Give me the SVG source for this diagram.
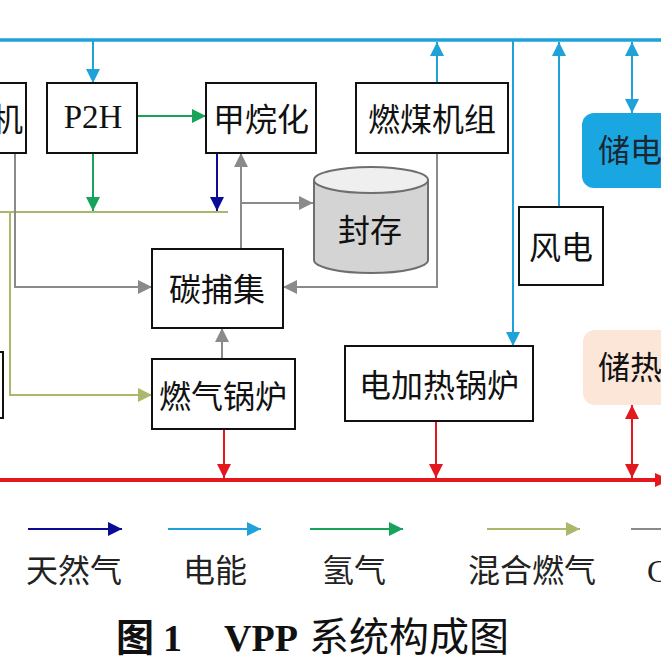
<svg xmlns="http://www.w3.org/2000/svg" width="661" height="662" viewBox="0 0 661 662">
<style>
.box{fill:#fff;stroke:#111;stroke-width:2}
.t{font-family:"Liberation Serif","Noto Sans CJK SC",serif;font-size:32px;fill:#111;text-anchor:middle}
.lt{font-family:"Liberation Serif","Noto Sans CJK SC",serif;font-size:32px;fill:#222;text-anchor:middle}
.ttl{font-family:"Liberation Serif","Noto Sans CJK SC",serif;fill:#111}
.c{fill:none;stroke-width:2}
.e{stroke:#1fa2d8}.h{stroke:#17a35a}.n{stroke:#0b0b96}.m{stroke:#a9b86a}.g{stroke:#8a8a8a}.r{stroke:#e3171e}
</style>
<defs>
<marker id="ae" markerUnits="userSpaceOnUse" markerWidth="14" markerHeight="14" refX="14" refY="7" orient="auto-start-reverse"><path d="M0,0L14,7L0,14z" fill="#1fa2d8"/></marker>
<marker id="ah" markerUnits="userSpaceOnUse" markerWidth="14" markerHeight="14" refX="14" refY="7" orient="auto"><path d="M0,0L14,7L0,14z" fill="#17a35a"/></marker>
<marker id="an" markerUnits="userSpaceOnUse" markerWidth="14" markerHeight="14" refX="14" refY="7" orient="auto"><path d="M0,0L14,7L0,14z" fill="#0b0b96"/></marker>
<marker id="am" markerUnits="userSpaceOnUse" markerWidth="14" markerHeight="14" refX="14" refY="7" orient="auto"><path d="M0,0L14,7L0,14z" fill="#a9b86a"/></marker>
<marker id="ag" markerUnits="userSpaceOnUse" markerWidth="14" markerHeight="14" refX="14" refY="7" orient="auto"><path d="M0,0L14,7L0,14z" fill="#8a8a8a"/></marker>
<marker id="ar" markerUnits="userSpaceOnUse" markerWidth="14" markerHeight="14" refX="14" refY="7" orient="auto-start-reverse"><path d="M0,0L14,7L0,14z" fill="#e3171e"/></marker>
</defs>
<rect width="661" height="662" fill="#fff"/>

<g id="connectors">
<line x1="0" y1="40" x2="661" y2="40" stroke="#1fa2d8" stroke-width="3.5"/>
<line x1="0" y1="480" x2="661" y2="480" stroke="#e3171e" stroke-width="4"/>
<polygon points="655,473 670,480 655,487" fill="#e3171e"/>
<path class="c e" d="M93,41V83" marker-end="url(#ae)"/>
<path class="c h" d="M137,116H206" marker-end="url(#ah)"/>
<path class="c h" d="M93,153V211" marker-end="url(#ah)"/>
<path class="c n" d="M217,153V211" marker-end="url(#an)"/>
<path class="c m" d="M0,212H228"/>
<path class="c m" d="M10,212V395H152" marker-end="url(#am)"/>
<path class="c g" d="M15,153V287H152" marker-end="url(#ag)"/>
<path class="c g" d="M241,249V153" marker-end="url(#ag)"/>
<path class="c g" d="M241,203H313" marker-end="url(#ag)"/>
<path class="c g" d="M437,153V287H283" marker-end="url(#ag)"/>
<path class="c g" d="M222,359V328" marker-end="url(#ag)"/>
<path class="c e" d="M437,83V42" marker-end="url(#ae)"/>
<path class="c e" d="M513,40V346" marker-end="url(#ae)"/>
<path class="c e" d="M559,207V42" marker-end="url(#ae)"/>
<path class="c e" d="M632,42V113" marker-start="url(#ae)" marker-end="url(#ae)"/>
<path class="c r" d="M224,429V478" marker-end="url(#ar)"/>
<path class="c r" d="M436,421V478" marker-end="url(#ar)"/>
<path class="c r" d="M632,405V478" marker-start="url(#ar)" marker-end="url(#ar)"/>
</g>

<g id="n-ji"><rect class="box" x="-5" y="83" width="31" height="70"/><text class="t" x="23" y="131" style="text-anchor:end">机</text></g>
<g id="n-p2h"><rect class="box" x="47" y="83" width="90" height="70"/><text class="t" x="93" y="128" style="font-size:33px">P2H</text></g>
<g id="n-methanation"><rect class="box" x="206" y="83" width="110" height="70"/><text class="t" x="261" y="131">甲烷化</text></g>
<g id="n-coal"><rect class="box" x="356" y="83" width="152" height="70"/><text class="t" x="432" y="131">燃煤机组</text></g>
<g id="n-storage">
<path d="M314,180V260A57,13 0 0 0 428,260V180" fill="#d4d4d4" stroke="#6e6e6e" stroke-width="2"/>
<ellipse cx="371" cy="180" rx="57" ry="13" fill="#efefef" stroke="#6e6e6e" stroke-width="2"/>
<text class="t" x="370" y="242">封存</text></g>
<g id="n-capture"><rect class="box" x="152" y="249" width="131" height="79"/><text class="t" x="217" y="301">碳捕集</text></g>
<g id="n-wind"><rect class="box" x="519" y="207" width="84" height="78"/><text class="t" x="561" y="259">风电</text></g>
<g id="n-elec-store"><rect x="582" y="113" width="100" height="75" rx="12" fill="#1aa7e1"/><text class="t" x="598" y="162" style="text-anchor:start;fill:#1c2733">储电</text></g>
<g id="n-heat-store"><rect x="583" y="330" width="100" height="75" rx="12" fill="#fbe6d8"/><text class="t" x="598" y="379" style="text-anchor:start">储热</text></g>
<g id="n-left"><rect class="box" x="-10" y="352" width="13" height="66"/></g>
<g id="n-gas-boiler"><rect class="box" x="152" y="359" width="143" height="70"/><text class="t" x="223" y="408">燃气锅炉</text></g>
<g id="n-e-boiler"><rect class="box" x="345" y="346" width="188" height="75"/><text class="t" x="439" y="397">电加热锅炉</text></g>

<g id="legend">
<path class="c n" d="M28,529H122" marker-end="url(#an)"/>
<path class="c e" d="M168,529H261" marker-end="url(#ae)"/>
<path class="c h" d="M310,529H403" marker-end="url(#ah)"/>
<path class="c m" d="M487,529H580" marker-end="url(#am)"/>
<path class="c g" d="M631,529H670"/>
<text class="lt" x="74" y="582">天然气</text>
<text class="lt" x="215" y="582">电能</text>
<text class="lt" x="354" y="582">氢气</text>
<text class="lt" x="532" y="582">混合燃气</text>
<text class="lt" x="647" y="582" style="text-anchor:start">C</text>
</g>

<text class="ttl" y="651"><tspan x="116" style="font-size:38px;font-weight:bold">图</tspan><tspan x="163" style="font-size:38px;font-weight:bold">1</tspan><tspan x="224" style="font-size:38px;font-weight:bold">VPP</tspan><tspan x="309" style="font-size:40px">系统构成图</tspan></text>
</svg>
